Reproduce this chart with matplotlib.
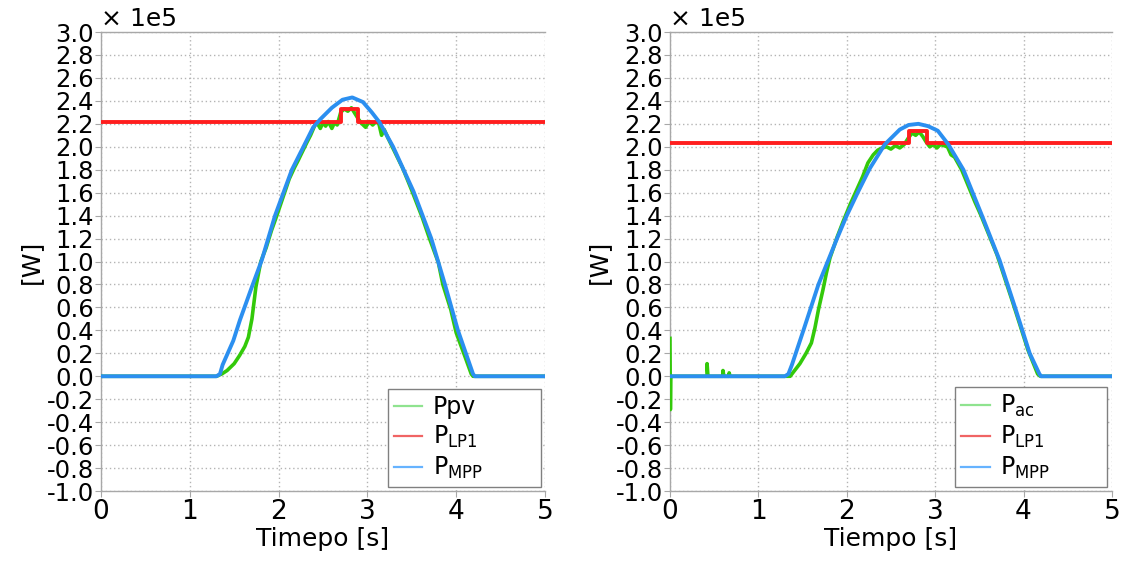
import matplotlib
matplotlib.use("Agg")
import matplotlib.pyplot as plt
from matplotlib.lines import Line2D
from matplotlib.ticker import MultipleLocator, FormatStrFormatter

plt.rcParams['font.family'] = ['DejaVu Sans']
plt.rcParams['axes.unicode_minus'] = False

# ---------------- data (power in units of 1e5 W) ----------------
# Left panel
t_mpp_l = [0, 1.30, 1.34, 1.37, 1.49, 1.565, 1.70, 1.81, 1.96, 2.15, 2.28, 2.39, 2.47, 2.60, 2.72,
           2.83, 2.95, 3.05, 3.14, 3.29, 3.52, 3.72, 3.87, 4.02, 4.19, 4.21, 5.0]
p_mpp_l = [0, 0, 0.02, 0.10, 0.31, 0.49, 0.78, 1.01, 1.40, 1.80, 2.00, 2.17, 2.24, 2.34, 2.41,
           2.43, 2.39, 2.30, 2.21, 2.00, 1.61, 1.20, 0.81, 0.40, 0.02, 0, 0]

t_pv_l = [0, 1.30, 1.36, 1.42, 1.50, 1.56, 1.62, 1.66, 1.70, 1.745, 1.80, 1.86, 1.92, 1.98, 2.05,
          2.12, 2.18, 2.22, 2.27, 2.32, 2.36, 2.41, 2.44, 2.47, 2.50, 2.53, 2.56, 2.60, 2.63, 2.66,
          2.70, 2.74, 2.78, 2.82, 2.86, 2.90, 2.94, 2.98, 3.02, 3.06, 3.10, 3.13, 3.16, 3.19, 3.23,
          3.28, 3.40, 3.50, 3.62, 3.70, 3.80, 3.85, 3.94, 4.00, 4.10, 4.17, 4.19, 5.0]
p_pv_l = [0, 0, 0.02, 0.05, 0.11, 0.18, 0.26, 0.34, 0.50, 0.78, 1.00, 1.12, 1.27, 1.40, 1.56,
          1.72, 1.82, 1.88, 1.96, 2.04, 2.10, 2.19, 2.20, 2.16, 2.21, 2.18, 2.22, 2.16, 2.21, 2.19,
          2.30, 2.33, 2.31, 2.34, 2.29, 2.24, 2.20, 2.17, 2.22, 2.19, 2.22, 2.20, 2.10, 2.15, 2.08,
          2.00, 1.81, 1.62, 1.38, 1.20, 0.99, 0.80, 0.58, 0.38, 0.17, 0.02, 0, 0]

t_lp1_l = [0, 2.70, 2.90, 5.0]
p_lp1_l = [2.22, 2.33, 2.22, 2.22]

# Right panel
t_mpp_r = [0, 1.30, 1.34, 1.38, 1.51, 1.68, 1.89, 2.00, 2.13, 2.26, 2.43, 2.60, 2.70, 2.81, 2.92,
           3.03, 3.15, 3.32, 3.52, 3.73, 3.90, 4.07, 4.18, 4.20, 5.0]
p_mpp_r = [0, 0, 0.02, 0.10, 0.40, 0.80, 1.20, 1.40, 1.61, 1.81, 2.02, 2.15, 2.19, 2.20, 2.18,
           2.14, 2.02, 1.80, 1.42, 1.01, 0.61, 0.20, 0.02, 0, 0]

t_ac_r = [0, 0.005, 0.01, 0.015, 0.42, 0.42, 0.43, 0.60, 0.60, 0.61, 0.67, 0.67, 0.68, 1.36, 1.40,
          1.47, 1.54, 1.60, 1.64, 1.68, 1.73, 1.77, 1.81, 1.89, 1.96, 2.04, 2.11, 2.18, 2.24, 2.30,
          2.35, 2.40, 2.45, 2.50, 2.55, 2.60, 2.65, 2.70, 2.74, 2.78, 2.82, 2.86, 2.90, 2.94, 2.98,
          3.02, 3.06, 3.10, 3.14, 3.18, 3.22, 3.30, 3.45, 3.52, 3.70, 3.88, 4.05, 4.16, 4.19, 5.0]
p_ac_r = [0.33, -0.29, 0.0, 0.0, 0.0, 0.11, 0.0, 0.0, 0.05, 0.0, 0.0, 0.03, 0.0, 0.0, 0.04,
          0.11, 0.20, 0.29, 0.42, 0.58, 0.75, 0.90, 1.03, 1.21, 1.35, 1.50, 1.62, 1.74, 1.86, 1.93,
          1.97, 1.99, 2.00, 1.98, 2.01, 1.99, 2.02, 2.08, 2.12, 2.10, 2.13, 2.09, 2.04, 2.00, 2.02,
          1.99, 2.02, 2.01, 2.00, 1.93, 1.91, 1.80, 1.52, 1.40, 1.06, 0.64, 0.23, 0.02, 0, 0]

t_lp1_r = [0, 2.70, 2.91, 5.0]
p_lp1_r = [2.03, 2.14, 2.03, 2.03]

xlabels = ["Timepo [s]", "Tiempo [s]"]
green_labels = ["Ppv", r"P$_{\mathrm{ac}}$"]
lp1_label = r"P$_{\mathrm{LP1}}$"
mpp_label = r"P$_{\mathrm{MPP}}$"

# ---------------- styling ----------------
C_GREEN = '#33c90a'
C_RED = '#ff1e1e'
C_BLUE = '#2b8ff0'
LG_GREEN = '#8fe38f'
LG_RED = '#f06464'
LG_BLUE = '#66b3ff'
SPINE = '#a8a8a8'

fig = plt.figure(figsize=(11.22, 5.64), dpi=100)
ax_l = fig.add_axes([0.0900, 0.1294, 0.3957, 0.8138])
ax_r = fig.add_axes([0.5971, 0.1294, 0.3939, 0.8138])

panels = [
    (ax_l, t_pv_l, p_pv_l, t_lp1_l, p_lp1_l, t_mpp_l, p_mpp_l, xlabels[0], green_labels[0]),
    (ax_r, t_ac_r, p_ac_r, t_lp1_r, p_lp1_r, t_mpp_r, p_mpp_r, xlabels[1], green_labels[1]),
]

for ax, tg, pg, tr, pr, tb, pb, xl, gl in panels:
    ax.plot(tg, pg, color=C_GREEN, lw=2.6, zorder=3)
    ax.plot(tr, pr, color=C_RED, lw=2.8, drawstyle='steps-post', zorder=4)
    ax.plot(tb, pb, color=C_BLUE, lw=2.8, zorder=5)

    ax.set_xlim(0, 5)
    ax.set_ylim(-1.0, 3.0)
    ax.xaxis.set_major_locator(MultipleLocator(1))
    ax.yaxis.set_major_locator(MultipleLocator(0.2))
    ax.yaxis.set_major_formatter(FormatStrFormatter('%.1f'))
    ax.tick_params(axis='x', labelsize=19, length=4, color=SPINE, pad=2)
    ax.tick_params(axis='y', labelsize=17.5, length=4, color=SPINE, pad=1)

    ax.grid(True, color='#b4b4b4', linestyle=(0, (1, 2)), linewidth=1.0, zorder=0)
    ax.set_axisbelow(True)
    for side in ['left', 'bottom', 'top']:
        ax.spines[side].set_color(SPINE)
        ax.spines[side].set_linewidth(1.0)
    ax.spines['right'].set_visible(False)

    ax.set_xlabel(xl, fontsize=18, labelpad=1)
    ax.set_ylabel('[W]', fontsize=18, labelpad=3)
    ax.text(0.0, 1.003, u'\u00d7 1e5', transform=ax.transAxes, fontsize=18,
            ha='left', va='bottom')

    handles = [Line2D([], [], color=LG_GREEN, lw=1.6),
               Line2D([], [], color=LG_RED, lw=1.6),
               Line2D([], [], color=LG_BLUE, lw=1.6)]
    leg = ax.legend(handles, [gl, lp1_label, mpp_label], loc='lower left',
                    bbox_to_anchor=(0.646, 0.009, 0.344, 0.2), mode='expand',
                    fontsize=17, frameon=True,
                    fancybox=False, edgecolor='#808080', framealpha=1,
                    handlelength=1.2, handletextpad=0.45, labelspacing=0.2,
                    borderpad=0.25, borderaxespad=0.0)
    leg.get_frame().set_linewidth(1.0)
    leg.set_zorder(10)

fig.savefig('out.png', dpi=100)
